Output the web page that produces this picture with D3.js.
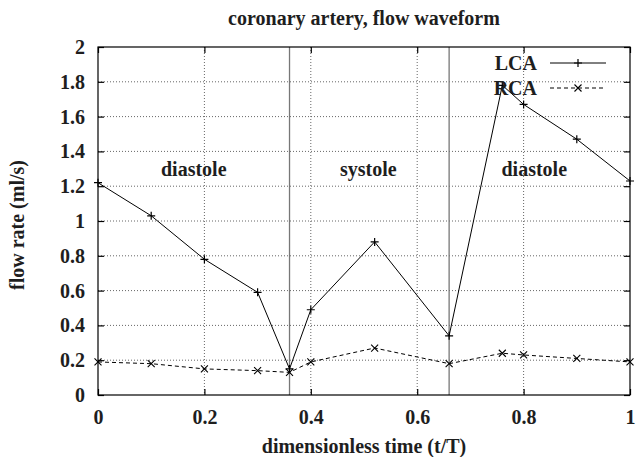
<!DOCTYPE html>
<html><head><meta charset="utf-8">
<script src="https://cdn.jsdelivr.net/npm/d3@7"></script>
<style>body{margin:0;background:#fff}svg{display:block}text{font-family:"Liberation Serif","Times New Roman",serif;font-weight:bold;fill:#1e1e1e}</style>
</head><body>
<svg id="c" width="636" height="457"></svg>
<script>
const times = [0, 0.1, 0.2, 0.3, 0.36, 0.4, 0.52, 0.66, 0.76, 0.8, 0.9, 1.0];
const lca = [1.22, 1.03, 0.78, 0.59, 0.15, 0.49, 0.88, 0.34, 1.78, 1.67, 1.47, 1.23];
const rca = [0.19, 0.18, 0.15, 0.14, 0.13, 0.19, 0.27, 0.18, 0.24, 0.23, 0.21, 0.19];
const xTicks = [0, 0.2, 0.4, 0.6, 0.8, 1];
const yTicks = [0, 0.2, 0.4, 0.6, 0.8, 1, 1.2, 1.4, 1.6, 1.8, 2];
const phaseLines = [0.36, 0.66];
const phaseLabels = ["diastole", "systole", "diastole"];
const phaseLabelX = [0.18, 0.508, 0.82];
const phaseLabelY = 1.26;
const seriesNames = ["LCA", "RCA"];

(function () {
const svg = d3.select("#c");
const L = 98, R = 630, T = 47, B = 395;
const x = d3.scaleLinear().domain([0, 1]).range([L, R]);
const y = d3.scaleLinear().domain([0, 2]).range([B, T]);

// grid
const g = svg.append("g");
g.selectAll(".gx").data(xTicks.filter(d => d > 0 && d < 1)).enter().append("line")
  .attr("x1", d => x(d)).attr("x2", d => x(d)).attr("y1", T).attr("y2", B)
  .attr("stroke", "#666").attr("stroke-width", 1).attr("stroke-dasharray", "1,2");
g.selectAll(".gy").data(yTicks.filter(d => d > 0 && d < 2)).enter().append("line")
  .attr("y1", d => y(d)).attr("y2", d => y(d)).attr("x1", L).attr("x2", R)
  .attr("stroke", "#666").attr("stroke-width", 1).attr("stroke-dasharray", "1,2");

// phase lines
g.selectAll(".ph").data(phaseLines).enter().append("line")
  .attr("x1", d => x(d)).attr("x2", d => x(d)).attr("y1", T).attr("y2", B)
  .attr("stroke", "#777").attr("stroke-width", 1.3);

// axes
const ax = svg.append("g");
const axB = ax.append("g").attr("transform", `translate(0,${B})`)
  .call(d3.axisBottom(x).tickValues(xTicks).tickSize(-6).tickPadding(15).tickFormat(d3.format("")));
ax.append("g").attr("transform", `translate(0,${T})`)
  .call(d3.axisTop(x).tickValues(xTicks).tickSize(-6).tickFormat(""));
ax.append("g").attr("transform", `translate(${L},0)`)
  .call(d3.axisLeft(y).tickValues(yTicks).tickSize(-6).tickPadding(13).tickFormat(d3.format("")));
ax.append("g").attr("transform", `translate(${R},0)`)
  .call(d3.axisRight(y).tickValues(yTicks).tickSize(-6).tickFormat(""));
ax.selectAll(".domain").remove();
ax.selectAll(".tick line").attr("stroke", "#000").attr("stroke-width", 1.2);
ax.selectAll(".tick text").attr("font-size", 20).attr("fill", "#1e1e1e")
  .attr("font-family", "Liberation Serif").attr("font-weight", "bold");
axB.selectAll(".tick text").attr("dy", "0.71em");
svg.append("rect").attr("x", L).attr("y", T).attr("width", R - L).attr("height", B - T)
  .attr("fill", "none").attr("stroke", "#000").attr("stroke-width", 1.2);

// lines
const lineGen = vals => d3.line().x((d, i) => x(times[i])).y(d => y(d))(vals);
svg.append("path").attr("d", lineGen(lca)).attr("fill", "none").attr("stroke", "#000").attr("stroke-width", 1);
svg.append("path").attr("d", lineGen(rca)).attr("fill", "none").attr("stroke", "#000").attr("stroke-width", 1).attr("stroke-dasharray", "4,3");

function plus(sel, cx, cy, s) {
  sel.append("path").attr("d", `M${cx - s},${cy}H${cx + s}M${cx},${cy - s}V${cy + s}`).attr("stroke", "#000").attr("stroke-width", 1.2);
}
function cross(sel, cx, cy, s) {
  sel.append("path").attr("d", `M${cx - s},${cy - s}L${cx + s},${cy + s}M${cx - s},${cy + s}L${cx + s},${cy - s}`).attr("stroke", "#000").attr("stroke-width", 1.1);
}
const mk = svg.append("g");
lca.forEach((v, i) => plus(mk, x(times[i]), y(v), 4));
rca.forEach((v, i) => cross(mk, x(times[i]), y(v), 3.5));

// phase labels
svg.selectAll(".pl").data(phaseLabels).enter().append("text")
  .attr("x", (d, i) => x(phaseLabelX[i])).attr("y", y(phaseLabelY))
  .attr("text-anchor", "middle").attr("font-size", 20).text(d => d);

// legend
const lg = svg.append("g");
seriesNames.forEach((n, i) => {
  const ly = 63 + i * 25;
  lg.append("text").attr("x", 537).attr("y", ly + 6.5).attr("text-anchor", "end").attr("font-size", 20).text(n);
  lg.append("line").attr("x1", 550).attr("x2", 606).attr("y1", ly).attr("y2", ly)
    .attr("stroke", "#000").attr("stroke-width", 1).attr("stroke-dasharray", i ? "4,3" : null);
  if (i === 0) plus(lg, 578, ly, 4); else cross(lg, 578, ly, 3.5);
});

// titles
svg.append("text").attr("x", 364).attr("y", 25).attr("text-anchor", "middle").attr("font-size", 20)
  .text("coronary artery, flow waveform");
svg.append("text").attr("x", 364).attr("y", 453).attr("text-anchor", "middle").attr("font-size", 20)
  .text("dimensionless time (t/T)");
svg.append("text").attr("transform", "translate(24,225) rotate(-90)").attr("text-anchor", "middle").attr("font-size", 20)
  .text("flow rate (ml/s)");
})();
</script>
</body></html>
